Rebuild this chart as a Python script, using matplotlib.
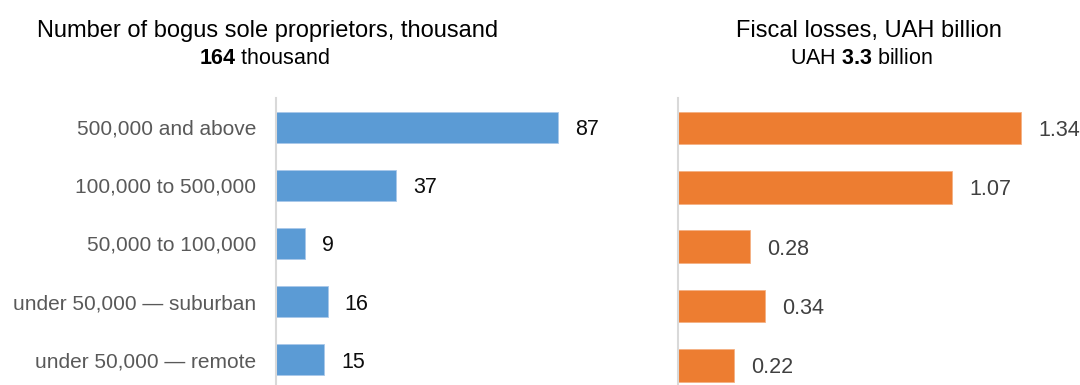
import matplotlib
matplotlib.use("Agg")
import matplotlib.pyplot as plt

plt.rcParams["font.family"] = ["Liberation Sans", "DejaVu Sans"]
plt.rcParams["mathtext.fontset"] = "custom"
plt.rcParams["mathtext.rm"] = "Liberation Sans"
plt.rcParams["mathtext.bf"] = "Liberation Sans:bold"

# settlement size groups, top to bottom
categories = [
    "500,000 and above",
    "100,000 to 500,000",
    "50,000 to 100,000",
    "under 50,000 \u2014 suburban",
    "under 50,000 \u2014 remote",
]
# bogus sole proprietors, thousand
proprietors = [87, 37, 9, 16, 15]
# fiscal losses, UAH billion
losses = [1.34, 1.07, 0.28, 0.34, 0.22]

BLUE = "#5B9BD5"
ORANGE = "#ED7D31"
AXIS_GREY = "#D9D9D9"

W, H = 1080, 385
fig = plt.figure(figsize=(W / 100, H / 100), dpi=100)


def px_axes(x0, y_top, x1, y_bot):
    # axes box given in pixel coords measured from the top-left corner
    return fig.add_axes([x0 / W, 1 - y_bot / H, (x1 - x0) / W, (y_bot - y_top) / H])


def style(ax):
    for side in ("top", "right", "bottom"):
        ax.spines[side].set_visible(False)
    ax.spines["left"].set_color(AXIS_GREY)
    ax.spines["left"].set_linewidth(1.5)
    ax.set_xticks([])
    ax.tick_params(axis="y", length=0)
    ax.set_ylim(len(categories) - 0.5, -0.5)


def label_bars(ax, values, fmt, color):
    # value written just right of each bar end, baseline set so digits sit centred
    for i, v in enumerate(values):
        ax.annotate(fmt.format(v), (v, i), xytext=(17, -8), textcoords="offset pixels",
                    va="baseline", ha="left", fontsize=15.5, color=color)


pos = range(len(categories))

# left panel
ax1 = px_axes(275.5, 98.5, 275.5 + 3.25 * 100, 388.5)
ax1.barh(pos, proprietors, height=0.55, color=BLUE, edgecolor="#A9C8EA", linewidth=0.6)
ax1.set_xlim(0, 100)
style(ax1)
ax1.set_yticks(list(pos))
ax1.set_yticklabels(categories, fontsize=15, color="#595959")
ax1.tick_params(axis="y", pad=14)
label_bars(ax1, proprietors, "{}", "#0D0D0D")

# right panel
ax2 = px_axes(678, 98.5, 678 + 256 * 1.55, 395)
ax2.barh(pos, losses, height=0.55, color=ORANGE, edgecolor="#F4B183", linewidth=0.6)
ax2.set_xlim(0, 1.55)
style(ax2)
ax2.set_yticks([])
label_bars(ax2, losses, "{:.2f}", "#404040")

# panel headings
fig.text(268 / W, 1 - 37.5 / H, "Number of bogus sole proprietors, thousand",
         ha="center", va="baseline", fontsize=17, color="#000000")
fig.text(264 / W, 1 - 63.5 / H, r"$\mathbf{164}$ thousand",
         ha="center", va="baseline", fontsize=15.5, color="#000000")
fig.text(869 / W, 1 - 37.5 / H, "Fiscal losses, UAH billion",
         ha="center", va="baseline", fontsize=17, color="#000000")
fig.text(861 / W, 1 - 63.5 / H, r"UAH $\mathbf{3.3}$ billion",
         ha="center", va="baseline", fontsize=15.5, color="#000000")

fig.savefig("out.png", dpi=100)
